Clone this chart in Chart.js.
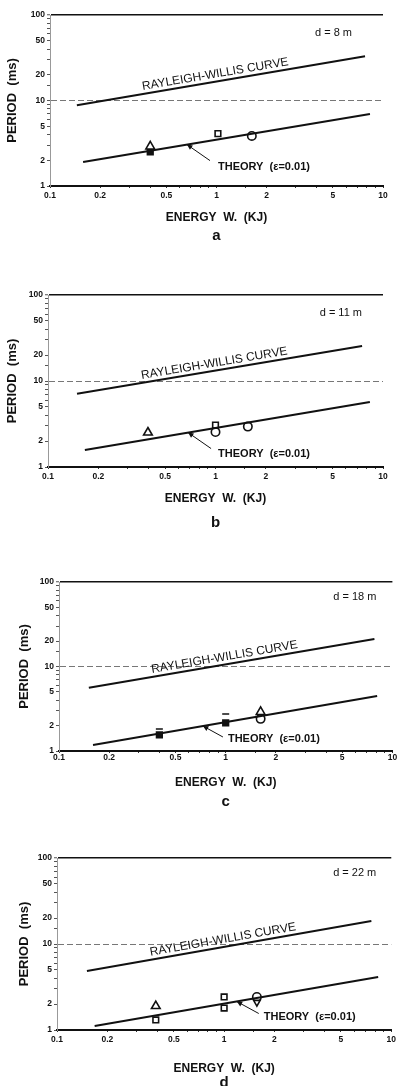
<!DOCTYPE html>
<html>
<head>
<meta charset="utf-8">
<script src="https://cdn.jsdelivr.net/npm/chart.js@4.4.1/dist/chart.umd.min.js"></script>
<style>
  html, body { margin: 0; padding: 0; background: #fff; }
  #page { position: relative; width: 399px; height: 1086px; overflow: hidden; }
  .panel { position: absolute; left: 0; width: 399px; }
</style>
</head>
<body>
<div id="page"></div>
<script>
const panelLetters = ["a", "b", "c", "d"];
const distanceLabels = ["d = 8 m", "d = 11 m", "d = 18 m", "d = 22 m"];
const xTickValues = [0.1, 0.2, 0.5, 1, 2, 5, 10];
const yTickValues = [1, 2, 5, 10, 20, 50, 100];

// line end points, [energy kJ, period ms]
const rayleighA = [[0.145, 8.8], [7.8, 33]];
const rayleighB = [[0.149, 7.1], [7.5, 25.5]];
const rayleighC = [[0.151, 5.6], [7.8, 21.2]];
const rayleighD = [[0.151, 4.85], [7.6, 18.5]];
const theoryA = [[0.158, 1.91], [8.35, 6.95]];
const theoryB = [[0.166, 1.58], [8.35, 5.7]];
const theoryC = [[0.16, 1.18], [8.1, 4.48]];
const theoryD = [[0.168, 1.11], [8.35, 4.13]];

// measured periods
const trianglesA = [[0.4, 2.9]];
const trianglesB = [[0.395, 2.52]];
const trianglesC = [[1.62, 2.9]];
const trianglesD = [[0.39, 1.9]];
const filledA = [[0.4, 2.5]];
const filledB = [];
const filledC = [[0.4, 1.55], [1.0, 2.15]];
const filledD = [];
const squaresA = [[1.02, 4.1]];
const squaresB = [[1.0, 3.07]];
const squaresC = [];
const squaresD = [[0.39, 1.31], [1.0, 2.42], [1.0, 1.8]];
const circlesA = [[1.63, 3.85]];
const circlesB = [[1.0, 2.55], [1.56, 2.95]];
const circlesC = [[1.62, 2.4]];
const circlesD = [[1.57, 2.42]];
const dashesC = [[0.4, 1.82], [1.0, 2.74]];
const invertedD = [[1.57, 2.1]];

const panels = [
  { rw: rayleighA, th: theoryA, tri: trianglesA, fil: filledA, sq: squaresA, ci: circlesA, da: [], inv: [] },
  { rw: rayleighB, th: theoryB, tri: trianglesB, fil: filledB, sq: squaresB, ci: circlesB, da: [], inv: [] },
  { rw: rayleighC, th: theoryC, tri: trianglesC, fil: filledC, sq: squaresC, ci: circlesC, da: dashesC, inv: [] },
  { rw: rayleighD, th: theoryD, tri: trianglesD, fil: filledD, sq: squaresD, ci: circlesD, da: [], inv: invertedD }
];

// where each panel sits on the page
const layouts = [
  { top: 0,   height: 270, pad: { top: 15, right: 16, bottom: 34 }, left: 50, tickPad: 3, yTitle: 5,  xTitle: 11, tip: 0.665, arrow: [23, 16], text: [31, 22], dist: [31, 18], letter: 50 },
  { top: 270, height: 270, pad: { top: 25, right: 16, bottom: 23 }, left: 48, tickPad: 3, yTitle: 5,  xTitle: 11, tip: 0.686, arrow: [23, 16], text: [30, 21], dist: [21, 18], letter: 56 },
  { top: 540, height: 270, pad: { top: 42, right: 6,  bottom: 9 },  left: 59, tickPad: 0, yTitle: 17, xTitle: 11, tip: 0.73,  arrow: [20, 11], text: [25, 13], dist: [16, 15], letter: 51 },
  { top: 810, height: 276, pad: { top: 48, right: 6,  bottom: 6 },  left: 57, tickPad: 3, yTitle: 17, xTitle: 4,  tip: 1.19,  arrow: [22, 12], text: [27, 15], dist: [15, 15], letter: 53 }
];

const FONT = "'Liberation Sans', Arial, sans-serif";
Chart.defaults.font.family = FONT;
Chart.defaults.color = "#111";

const toXY = arr => arr.map(p => ({ x: p[0], y: p[1] }));
const isTick = (list, v) => list.some(t => Math.abs(Math.log10(t) - Math.log10(v)) < 1e-6);

function onLine(chart, pts, xv) {
  const { x, y } = chart.scales;
  const x0 = x.getPixelForValue(pts[0][0]), y0 = y.getPixelForValue(pts[0][1]);
  const x1 = x.getPixelForValue(pts[1][0]), y1 = y.getPixelForValue(pts[1][1]);
  const px = x.getPixelForValue(xv);
  const t = (px - x0) / (x1 - x0);
  return { px: px, py: y0 + t * (y1 - y0), angle: Math.atan2(y1 - y0, x1 - x0) };
}

const annotations = {
  id: "annotations",
  afterDraw(chart, args, o) {
    const ctx = chart.ctx, area = chart.chartArea;
    ctx.save();
    ctx.fillStyle = "#111";
    ctx.strokeStyle = "#111";

    // curve name written along the Rayleigh-Willis line
    const rw = onLine(chart, o.rw, 1.0);
    ctx.save();
    ctx.translate(rw.px, rw.py);
    ctx.rotate(rw.angle);
    ctx.font = "12px " + FONT;
    ctx.textAlign = "center";
    ctx.textBaseline = "alphabetic";
    ctx.fillText("RAYLEIGH-WILLIS CURVE", 0, -4);
    ctx.restore();

    // theory label with its pointer
    const th = onLine(chart, o.th, o.tip);
    const tx = th.px + o.arrow[0], ty = th.py + o.arrow[1];
    ctx.lineWidth = 1;
    ctx.beginPath();
    ctx.moveTo(tx, ty);
    ctx.lineTo(th.px, th.py);
    ctx.stroke();
    const a = Math.atan2(th.py - ty, th.px - tx);
    ctx.beginPath();
    ctx.moveTo(th.px, th.py);
    ctx.lineTo(th.px - 6 * Math.cos(a - 0.45), th.py - 6 * Math.sin(a - 0.45));
    ctx.lineTo(th.px - 6 * Math.cos(a + 0.45), th.py - 6 * Math.sin(a + 0.45));
    ctx.closePath();
    ctx.fill();
    ctx.font = "bold 11px " + FONT;
    ctx.textAlign = "left";
    ctx.textBaseline = "middle";
    ctx.fillText("THEORY  (\u03b5=0.01)", th.px + o.text[0], th.py + o.text[1]);

    ctx.font = "11px " + FONT;
    ctx.textAlign = "right";
    ctx.fillText(o.dist, area.right - o.distPos[0], area.top + o.distPos[1]);

    ctx.font = "bold 15px " + FONT;
    ctx.textAlign = "center";
    ctx.fillText(o.letter, (area.left + area.right) / 2, area.bottom + o.letterPos);
    ctx.restore();
  }
};

const page = document.getElementById("page");

panels.forEach((p, i) => {
  const L = layouts[i];
  const box = document.createElement("div");
  box.className = "panel";
  box.style.top = L.top + "px";
  box.style.height = L.height + "px";
  const canvas = document.createElement("canvas");
  canvas.width = 399;
  canvas.height = L.height;
  box.appendChild(canvas);
  page.appendChild(box);

  const lineSet = (pts) => ({
    data: toXY(pts), showLine: true, borderColor: "#111", borderWidth: 2,
    pointRadius: 0, fill: false
  });
  const markSet = (pts, style, fillColor, radius, rotation) => ({
    data: toXY(pts), pointStyle: style, pointRadius: radius, pointRotation: rotation || 0,
    pointBackgroundColor: fillColor, pointBorderColor: "#111", pointBorderWidth: 1.6,
    showLine: false
  });

  new Chart(canvas, {
    type: "scatter",
    data: {
      datasets: [
        lineSet(p.rw),
        lineSet(p.th),
        markSet(p.tri, "triangle", "#fff", 5),
        markSet(p.inv, "triangle", "#fff", 3.8, 180),
        markSet(p.sq, "rect", "#fff", 4),
        markSet(p.fil, "rect", "#111", 4),
        markSet(p.ci, "circle", "#fff", 4.2),
        markSet(p.da, "line", "#111", 3.5)
      ]
    },
    options: {
      responsive: false,
      animation: false,
      events: [],
      layout: { padding: { top: L.pad.top, right: L.pad.right, bottom: L.pad.bottom, left: 0 } },
      plugins: {
        legend: { display: false },
        tooltip: { enabled: false },
        annotations: {
          rw: p.rw, th: p.th, tip: L.tip, arrow: L.arrow, text: L.text,
          dist: distanceLabels[i], distPos: L.dist,
          letter: panelLetters[i], letterPos: L.letter
        }
      },
      scales: {
        x: {
          type: "logarithmic",
          min: 0.1,
          max: 10,
          afterFit(scale) { scale.height = 50; },
          grid: { color: "transparent", tickColor: "#333", tickLength: 2, tickWidth: 1 },
          border: { color: "#111", width: 2 },
          ticks: {
            autoSkip: false, maxRotation: 0, padding: L.tickPad,
            font: { size: 8.5, weight: "bold" },
            callback: v => isTick(xTickValues, v) ? String(v) : ""
          },
          title: {
            display: true, text: "ENERGY  W.  (KJ)",
            font: { size: 12, weight: "bold" },
            padding: { top: 0, bottom: L.xTitle }
          }
        },
        y: {
          type: "logarithmic",
          min: 1,
          max: 100,
          afterFit(scale) { scale.width = L.left; },
          grid: {
            color: ctx => ctx.tick && ctx.tick.value === 100 ? "#111" : (ctx.tick && ctx.tick.value === 10 ? "#777" : "transparent"),
            lineWidth: ctx => ctx.tick && ctx.tick.value === 100 ? 1.5 : 1,
            tickColor: "#555", tickLength: 3, tickWidth: 1
          },
          border: {
            color: "#999", width: 1,
            dash: ctx => ctx.tick && ctx.tick.value === 10 ? [6, 3] : []
          },
          ticks: {
            autoSkip: false, padding: 2,
            font: { size: 8.5, weight: "bold" },
            callback: v => isTick(yTickValues, v) ? String(v) : ""
          },
          title: {
            display: true, text: "PERIOD  (ms)",
            font: { size: 13, weight: "bold" },
            padding: { top: L.yTitle, bottom: 0 }
          }
        }
      }
    },
    plugins: [annotations]
  });
});
</script>
</body>
</html>
